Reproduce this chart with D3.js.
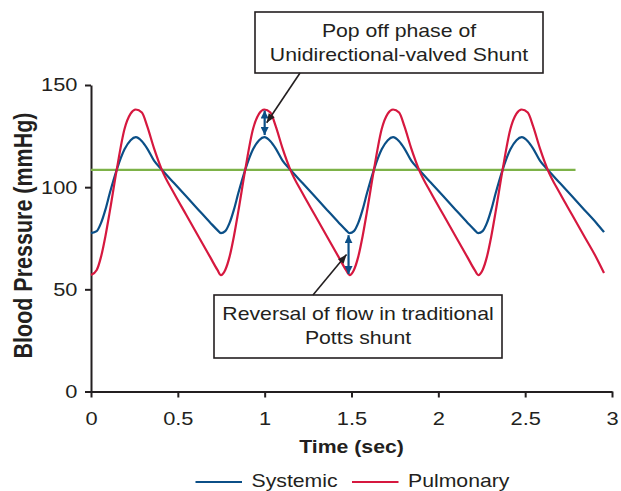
<!DOCTYPE html>
<html>
<head>
<meta charset="utf-8">
<script src="https://cdn.jsdelivr.net/npm/d3@7"></script>
<style>
  body { margin: 0; background: #fff; }
  svg { display: block; font-family: "Liberation Sans", Arial, sans-serif; }
</style>
</head>
<body>
<svg id="chart" width="621" height="491"></svg>
<script>
// values, four cardiac cycles
const time = [
  0, 0.033, 0.058, 0.083, 0.108, 0.148, 0.193, 0.228, 0.258, 0.293, 0.323, 0.363, 0.408, 0.478, 0.548, 0.618, 0.688, 0.728,
  0.748, 0.773, 0.798, 0.823, 0.848, 0.888, 0.933, 0.968, 0.998, 1.033, 1.063, 1.103, 1.148, 1.218, 1.288, 1.358, 1.428, 1.468,
  1.489, 1.514, 1.539, 1.564, 1.589, 1.629, 1.674, 1.709, 1.739, 1.774, 1.804, 1.844, 1.889, 1.959, 2.029, 2.099, 2.169, 2.209,
  2.23, 2.255, 2.28, 2.305, 2.33, 2.37, 2.415, 2.45, 2.48, 2.515, 2.545, 2.585, 2.63, 2.70, 2.77, 2.84, 2.91, 2.954
];
const systemic = [
  77.5, 78.5, 82.5, 89, 97, 108.5, 118.5, 123, 124.5, 122.5, 119, 113, 108.5, 102, 95.5, 89, 82.5, 79,
  77.5, 78.5, 82.5, 89, 97, 108.5, 118.5, 123, 124.5, 122.5, 119, 113, 108.5, 102, 95.5, 89, 82.5, 79,
  77.5, 78.5, 82.5, 89, 97, 108.5, 118.5, 123, 124.5, 122.5, 119, 113, 108.5, 102, 95.5, 89, 82.5, 79,
  77.5, 78.5, 82.5, 89, 97, 108.5, 118.5, 123, 124.5, 122.5, 119, 113, 108.5, 102, 95.5, 89, 82.5, 78
];
const pulmonary = [
  57, 59.5, 66, 76, 88, 108.5, 128.5, 136, 138, 136.5, 130, 119, 108.5, 97, 86.5, 76, 65.5, 59.5,
  57, 59.5, 66, 76, 88, 108.5, 128.5, 136, 138, 136.5, 130, 119, 108.5, 97, 86.5, 76, 65.5, 59.5,
  57, 59.5, 66, 76, 88, 108.5, 128.5, 136, 138, 136.5, 130, 119, 108.5, 97, 86.5, 76, 65.5, 59.5,
  57, 59.5, 66, 76, 88, 108.5, 128.5, 136, 138, 136.5, 130, 119, 108.5, 97, 86.5, 76, 65.5, 58
];
const meanPressure = 108.5;
const meanEnd = 2.79;

const xTicks = [0, 0.5, 1, 1.5, 2, 2.5, 3];
const yTicks = [0, 50, 100, 150];
const seriesNames = ["Systemic", "Pulmonary"];

// pressure gaps marked with double arrows
const gapTimes = [1.0, 1.483];
const gapTop = [137.5, 76.5];
const gapBottom = [125.5, 57.5];
const popOffLines = ["Pop off phase of", "Unidirectional-valved Shunt"];
const reversalLines = ["Reversal of flow in traditional", "Potts shunt"];

const INK = "#231f20";
const BLUE = "#0b4f87";
const RED = "#d6183f";
const GREEN = "#7db248";
const SX = 1.18; // source figure is stretched horizontally

const svg = d3.select("#chart");
svg.append("rect").attr("width", 621).attr("height", 491).attr("fill", "#fff");

const x = d3.scaleLinear().domain([0, 3]).range([91, 612]);
const y = d3.scaleLinear().domain([0, 150]).range([391.5, 85]);

function addText(sel, px, py, str, size, weight, anchor) {
    return sel.append("text")
        .attr("transform", `translate(${px},${py}) scale(${SX},1)`)
        .attr("text-anchor", anchor || "middle")
        .style("font-size", size + "px")
        .style("font-weight", weight || "normal")
        .attr("fill", INK)
        .text(str);
}

const defs = svg.append("defs");
defs.append("marker")
    .attr("id", "headBlack")
    .attr("markerUnits", "userSpaceOnUse")
    .attr("viewBox", "0 -5 10 10")
    .attr("refX", 10).attr("refY", 0)
    .attr("markerWidth", 11).attr("markerHeight", 9)
    .attr("orient", "auto")
    .append("path").attr("d", "M0,-4L10,0L0,4Z").attr("fill", INK);
defs.append("marker")
    .attr("id", "headBlue")
    .attr("markerUnits", "userSpaceOnUse")
    .attr("viewBox", "0 -5 10 10")
    .attr("refX", 10).attr("refY", 0)
    .attr("markerWidth", 8).attr("markerHeight", 8)
    .attr("orient", "auto-start-reverse")
    .append("path").attr("d", "M0,-5L10,0L0,5Z").attr("fill", BLUE);

// axes
const yAxis = svg.append("g")
    .attr("transform", `translate(${x(0)},0)`)
    .call(d3.axisLeft(y).tickValues(yTicks).tickSize(6).tickSizeOuter(0));
const xAxis = svg.append("g")
    .attr("transform", `translate(0,${y(0)})`)
    .call(d3.axisBottom(x).tickValues(xTicks).tickFormat(d => String(d))
        .tickSize(6).tickPadding(14).tickSizeOuter(0));

[xAxis, yAxis].forEach(a => {
    a.select(".domain").attr("stroke", INK).attr("stroke-width", 2);
    a.selectAll(".tick line").attr("stroke", INK).attr("stroke-width", 2);
    a.selectAll(".tick text")
        .attr("fill", INK)
        .style("font-size", "18.5px")
        .style("font-family", "'Liberation Sans', Arial, sans-serif");
});
yAxis.selectAll(".tick text")
    .attr("x", 0)
    .attr("transform", `translate(-13.5,0) scale(${SX},1)`);
xAxis.selectAll(".tick text")
    .attr("transform", `scale(${SX},1)`);

addText(svg, 351.5, 453, "Time (sec)", 18, "bold");
svg.append("text")
    .attr("transform", `translate(31.5,235.5) rotate(-90) scale(1,${SX})`)
    .attr("text-anchor", "middle")
    .style("font-size", "21.5px")
    .style("font-weight", "bold")
    .attr("fill", INK)
    .text("Blood Pressure (mmHg)");

// mean line
svg.append("line")
    .attr("x1", x(0)).attr("x2", x(meanEnd))
    .attr("y1", y(meanPressure)).attr("y2", y(meanPressure))
    .attr("stroke", GREEN).attr("stroke-width", 2.2);

const line = d3.line()
    .x((d, i) => x(time[i]))
    .y(d => y(d))
    .curve(d3.curveMonotoneX);

svg.append("path")
    .datum(systemic)
    .attr("fill", "none")
    .attr("stroke", BLUE)
    .attr("stroke-width", 2.2)
    .attr("d", line);

svg.append("path")
    .datum(pulmonary)
    .attr("fill", "none")
    .attr("stroke", RED)
    .attr("stroke-width", 2.2)
    .attr("d", line);

// double arrows between the two curves
gapTimes.forEach((t, i) => {
    svg.append("line")
        .attr("x1", x(t)).attr("x2", x(t))
        .attr("y1", y(gapTop[i])).attr("y2", y(gapBottom[i]))
        .attr("stroke", BLUE).attr("stroke-width", 2.2)
        .attr("marker-start", "url(#headBlue)")
        .attr("marker-end", "url(#headBlue)");
});

function noteBox(lines, cx, top, w, h, baselines) {
    const g = svg.append("g");
    g.append("rect")
        .attr("x", cx - w / 2).attr("y", top)
        .attr("width", w).attr("height", h)
        .attr("fill", "#fff")
        .attr("stroke", INK)
        .attr("stroke-width", 1.6);
    lines.forEach((s, i) => addText(g, cx, baselines[i], s, 18));
}

noteBox(popOffLines, 399, 12, 288, 61, [36.5, 61]);
noteBox(reversalLines, 358, 295, 288, 63, [320, 344]);

// pointers from the boxes to the double arrows
const popTip = [x(gapTimes[0]) + 2, (y(gapTop[0]) + y(gapBottom[0])) / 2];
const revTip = [x(gapTimes[1]) - 2, (y(gapTop[1]) + y(gapBottom[1])) / 2];
svg.append("line")
    .attr("x1", 300).attr("y1", 73)
    .attr("x2", popTip[0]).attr("y2", popTip[1])
    .attr("stroke", INK).attr("stroke-width", 1.6)
    .attr("marker-end", "url(#headBlack)");
svg.append("line")
    .attr("x1", 313).attr("y1", 295)
    .attr("x2", revTip[0]).attr("y2", revTip[1])
    .attr("stroke", INK).attr("stroke-width", 1.6)
    .attr("marker-end", "url(#headBlack)");

// legend
const legendX = [195.5, 352];
const legendColors = [BLUE, RED];
seriesNames.forEach((name, i) => {
    svg.append("line")
        .attr("x1", legendX[i]).attr("x2", legendX[i] + 46.5)
        .attr("y1", 482).attr("y2", 482)
        .attr("stroke", legendColors[i]).attr("stroke-width", 2);
    addText(svg, legendX[i] + 56, 486.5, name, 18, "normal", "start");
});
</script>
</body>
</html>
